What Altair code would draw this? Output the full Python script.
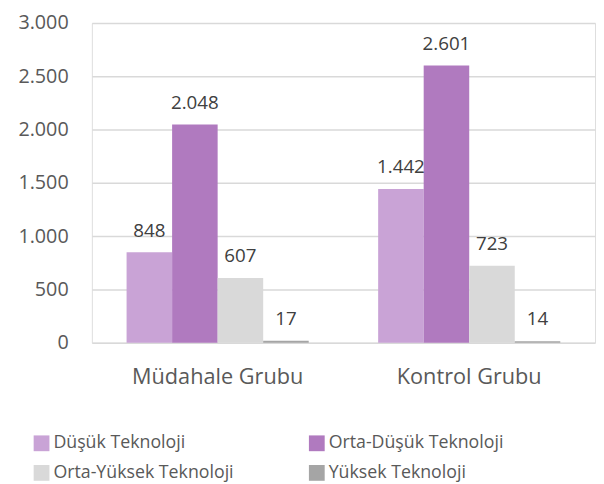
import altair as alt
import pandas as pd

groups = ["Müdahale Grubu", "Kontrol Grubu"]
series = ["Düşük Teknoloji", "Orta-Düşük Teknoloji", "Orta-Yüksek Teknoloji", "Yüksek Teknoloji"]
mudahale = [848, 2048, 607, 17]
kontrol = [1442, 2601, 723, 14]
colors = ["#C9A3D6", "#B07ABF", "#D9D9D9", "#A5A5A5"]

rows = []
for g, vals in zip(groups, [mudahale, kontrol]):
    for s, v in zip(series, vals):
        rows.append({"grup": g, "seri": s, "deger": v,
                     "etiket": f"{v:,}".replace(",", ".")})
df = pd.DataFrame(rows)

FONT = "Open Sans"

base = alt.Chart(df).encode(
    x=alt.X("grup:N", sort=groups, title=None,
            scale=alt.Scale(paddingInner=0.276, paddingOuter=0.138),
            axis=alt.Axis(labelAngle=0, labelFontSize=22, labelColor="#595959",
                          labelPadding=24, ticks=False, domain=False, labelFont=FONT)),
    xOffset=alt.XOffset("seri:N", sort=series, scale=alt.Scale(paddingInner=0, paddingOuter=0)),
)

bars = base.mark_bar().encode(
    y=alt.Y("deger:Q", title=None,
            scale=alt.Scale(domain=[0, 3000]),
            axis=alt.Axis(values=[0, 500, 1000, 1500, 2000, 2500, 3000],
                          labelExpr="replace(format(datum.value, ','), ',', '.')",
                          labelFontSize=20, labelColor="#595959", labelPadding=24,
                          ticks=False, domain=False, grid=True, gridColor="#D9D9D9",
                          gridWidth=1.5, labelFont=FONT)),
    color=alt.Color("seri:N", sort=series,
                    scale=alt.Scale(domain=series, range=colors),
                    legend=alt.Legend(title=None, orient="none", legendX=-60, legendY=417,
                                      direction="horizontal",
                                      columns=2, columnPadding=75, rowPadding=12,
                                      symbolType="square", symbolSize=256,
                                      symbolStrokeWidth=0, labelFontSize=18,
                                      labelColor="#595959", labelFont=FONT,
                                      labelOffset=3, labelLimit=300)),
)

labels = base.mark_text(baseline="bottom", dy=-12, fontSize=19, color="#404040", font=FONT).encode(
    y=alt.Y("deger:Q"),
    text="etiket:N",
)

chart = (bars + labels).properties(
    width=510, height=324,
    autosize=alt.AutoSizeParams(type="none"),
    padding={"left": 85, "top": 12, "right": 1, "bottom": 138},
).configure_view(stroke=None).configure(font=FONT, background="white")

chart.save("out.html", embed_options={"renderer": "svg", "actions": False})
